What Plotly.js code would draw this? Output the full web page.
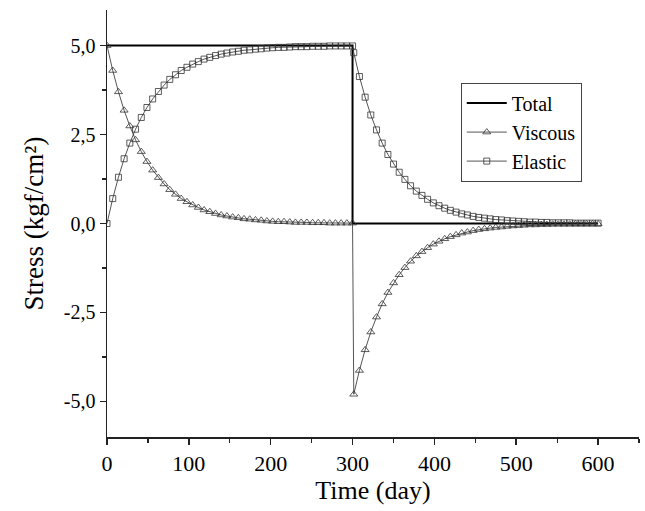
<!DOCTYPE html>
<html>
<head>
<meta charset="utf-8">
<script src="https://cdn.plot.ly/plotly-3.0.1.min.js"></script>
<style>html,body{margin:0;padding:0;background:#fff;}#chart{width:645px;height:511px;}</style>
</head>
<body>
<div id="chart"></div>
<script>
// Time (day) samples
const timePhase1 = [0, 7.0, 14.0, 20.9, 27.9, 34.9, 41.9, 48.8, 55.8, 62.8, 69.8, 76.7, 83.7, 90.7, 97.7, 104.7, 111.6, 118.6, 125.6, 132.6, 139.5, 146.5, 153.5, 160.5, 167.4, 174.4, 181.4, 188.4, 195.3, 202.3, 209.3, 216.3, 223.3, 230.2, 237.2, 244.2, 251.2, 258.1, 265.1, 272.1, 279.1, 286.0, 293.0, 300.0];
const timePhase2 = [301.5, 308.4, 315.4, 322.3, 329.3, 336.2, 343.2, 350.1, 357.0, 364.0, 370.9, 377.9, 384.8, 391.7, 398.7, 405.6, 412.6, 419.5, 426.5, 433.4, 440.3, 447.3, 454.2, 461.2, 468.1, 475.0, 482.0, 488.9, 495.9, 502.8, 509.7, 516.7, 523.6, 530.6, 537.5, 544.5, 551.4, 558.3, 565.3, 572.2, 579.2, 586.1, 593.1, 600.0];

// Stress (kgf/cm²)
const viscousPhase1 = [5.00, 4.30, 3.70, 3.18, 2.74, 2.35, 2.02, 1.74, 1.50, 1.29, 1.11, 0.95, 0.82, 0.70, 0.61, 0.52, 0.45, 0.38, 0.33, 0.28, 0.24, 0.21, 0.18, 0.16, 0.13, 0.12, 0.10, 0.09, 0.07, 0.06, 0.05, 0.05, 0.04, 0.03, 0.03, 0.03, 0.02, 0.02, 0.02, 0.01, 0.01, 0.01, 0.01, 0.01];
const viscousPhase2 = [-4.80, -4.13, -3.55, -3.05, -2.63, -2.26, -1.94, -1.67, -1.44, -1.24, -1.06, -0.91, -0.79, -0.68, -0.58, -0.50, -0.43, -0.37, -0.32, -0.27, -0.24, -0.20, -0.17, -0.15, -0.13, -0.11, -0.10, -0.08, -0.07, -0.06, -0.05, -0.04, -0.04, -0.03, -0.03, -0.02, -0.02, -0.02, -0.02, -0.01, -0.01, -0.01, -0.01, -0.01];
const elasticPhase1 = [0.00, 0.70, 1.30, 1.82, 2.26, 2.65, 2.98, 3.26, 3.50, 3.71, 3.89, 4.05, 4.18, 4.30, 4.39, 4.48, 4.55, 4.62, 4.67, 4.72, 4.76, 4.79, 4.82, 4.84, 4.87, 4.88, 4.90, 4.91, 4.93, 4.94, 4.95, 4.95, 4.96, 4.97, 4.97, 4.97, 4.98, 4.98, 4.98, 4.99, 4.99, 4.99, 4.99, 4.99];
const elasticPhase2 = [4.80, 4.13, 3.55, 3.05, 2.63, 2.26, 1.94, 1.67, 1.44, 1.24, 1.06, 0.91, 0.79, 0.68, 0.58, 0.50, 0.43, 0.37, 0.32, 0.27, 0.24, 0.20, 0.17, 0.15, 0.13, 0.11, 0.10, 0.08, 0.07, 0.06, 0.05, 0.04, 0.04, 0.03, 0.03, 0.02, 0.02, 0.02, 0.02, 0.01, 0.01, 0.01, 0.01, 0.01];

const totalTime = [0, 300, 300, 600];
const totalStress = [5, 5, 0, 0];

const yTickVals = [-5, -2.5, 0, 2.5, 5];
const yTickText = ["-5,0", "-2,5", "0,0", "2,5", "5,0"];
const xTickVals = [0, 100, 200, 300, 400, 500, 600];
const xTickText = ["0", "100", "200", "300", "400", "500", "600"];

const timeAll = timePhase1.concat(timePhase2);
const viscousAll = viscousPhase1.concat(viscousPhase2);
const elasticAll = elasticPhase1.concat(elasticPhase2);

const font = "'Liberation Serif', 'Times New Roman', serif";
const lineCol = "#2a2a2a";

const traces = [
  {x: totalTime, y: totalStress, name: "Total", mode: "lines",
   line: {color: "#000", width: 2}},
  {x: timeAll, y: viscousAll, name: "Viscous", mode: "lines+markers",
   line: {color: lineCol, width: 0.8},
   marker: {symbol: "triangle-up-open", size: 7, color: "#333", line: {width: 0.8}}},
  {x: timeAll, y: elasticAll, name: "Elastic", mode: "lines+markers",
   line: {color: lineCol, width: 0.8},
   marker: {symbol: "square-open", size: 6, color: "#333", line: {width: 0.8}}}
];

const layout = {
  width: 645, height: 511,
  margin: {l: 107, r: 6, t: 10, b: 74},
  paper_bgcolor: "#fff", plot_bgcolor: "#fff",
  font: {family: font, color: "#000", size: 18},
  showlegend: true,
  legend: {x: 0.665, y: 0.83, xanchor: "left", yanchor: "top",
    bordercolor: "#444", borderwidth: 1, bgcolor: "#fff",
    font: {family: font, size: 20, color: "#000"},
    tracegroupgap: 0, itemwidth: 40},
  xaxis: {
    range: [0, 650], showgrid: false, zeroline: false,
    showline: true, linecolor: "#222", linewidth: 1.5,
    ticks: "outside", ticklen: 6, tickwidth: 1.5, tickcolor: "#222",
    tickmode: "array", tickvals: xTickVals, ticktext: xTickText,
    minor: {dtick: 50, tick0: 0, ticks: "outside", ticklen: 4, tickwidth: 1.2, tickcolor: "#222", showgrid: false},
    tickfont: {family: font, size: 22, color: "#000"},
    title: {text: "Time (day)", font: {family: font, size: 26, color: "#000"}, standoff: 6}
  },
  yaxis: {
    range: [-6, 6], showgrid: false, zeroline: false,
    showline: true, linecolor: "#222", linewidth: 1.5,
    ticks: "outside", ticklen: 6, tickwidth: 1.5, tickcolor: "#222",
    tickmode: "array", tickvals: yTickVals, ticktext: yTickText,
    minor: {dtick: 1.25, tick0: 0, ticks: "outside", ticklen: 4, tickwidth: 1.2, tickcolor: "#222", showgrid: false},
    tickfont: {family: font, size: 20, color: "#000"},
    title: {text: "Stress (kgf/cm²)", font: {family: font, size: 27, color: "#000"}, standoff: 12}
  }
};

Plotly.newPlot("chart", traces, layout, {displayModeBar: false, staticPlot: true});
</script>
</body>
</html>
